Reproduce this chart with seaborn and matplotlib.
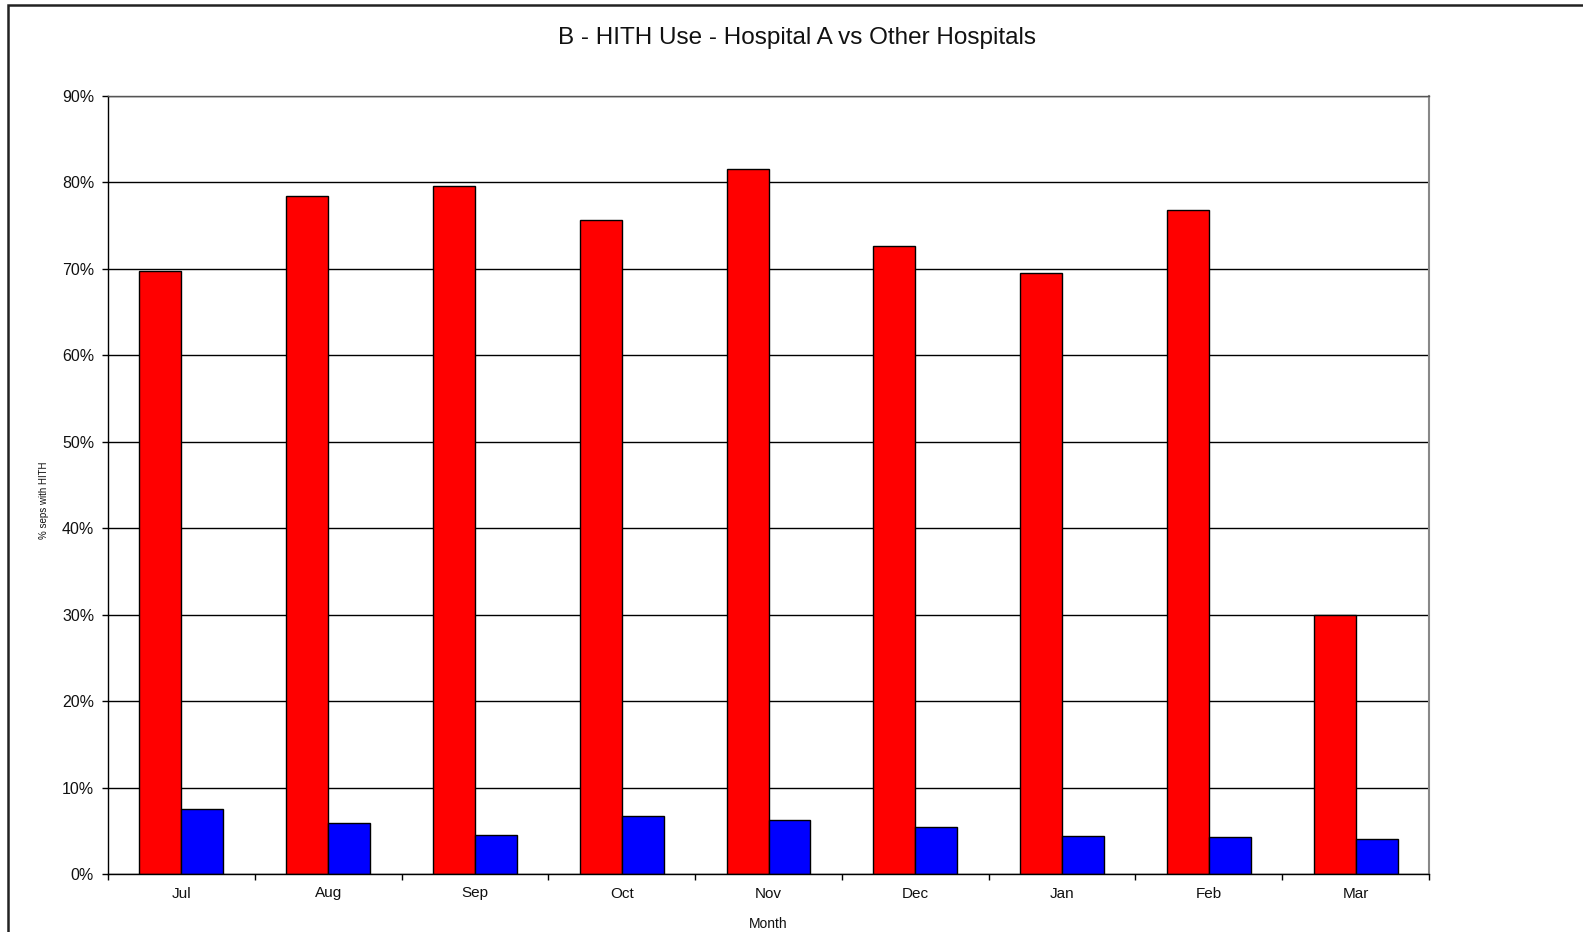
import numpy as np
import pandas as pd
import matplotlib
matplotlib.use("Agg")
import matplotlib.pyplot as plt
from matplotlib.patches import Rectangle
from matplotlib.ticker import PercentFormatter, FixedLocator
import seaborn as sns

# Monthly share of separations with HITH (%)
months = ["Jul", "Aug", "Sep", "Oct", "Nov", "Dec", "Jan", "Feb", "Mar"]
hospital_a = [69.8, 78.4, 79.6, 75.7, 81.6, 72.7, 69.5, 76.8, 30.0]
other_hospitals = [7.5, 5.9, 4.5, 6.75, 6.25, 5.45, 4.35, 4.25, 4.05]
groups = ["Hospital A", "Other Hospitals"]

df = pd.DataFrame({
    "Month": months * 2,
    "Pct": hospital_a + other_hospitals,
    "Group": [groups[0]] * len(months) + [groups[1]] * len(months),
})

sns.set_theme(style="white")
plt.rcParams["font.family"] = ["Liberation Sans", "DejaVu Sans"]

W, H = 1583, 932
fig = plt.figure(figsize=(W / 100, H / 100), dpi=100)
ax = fig.add_axes([108 / W, 1 - 874 / H, (1429 - 108) / W, (874 - 96) / H])

sns.barplot(
    data=df, x="Month", y="Pct", hue="Group",
    order=months, hue_order=groups,
    palette=["#FF0000", "#0000FF"], saturation=1,
    width=0.5714, edgecolor="black", linewidth=1.0,
    legend=False, ax=ax,
)

ax.set_ylim(0, 90)
ax.set_xlim(-0.5, len(months) - 0.5)
ax.yaxis.set_major_locator(FixedLocator(np.arange(0, 91, 10)))
ax.yaxis.set_major_formatter(PercentFormatter(decimals=0))
ax.set_axisbelow(True)
ax.grid(axis="y", color="black", linewidth=1.0)
ax.grid(axis="x", visible=False)

# category boundaries carry the x tick marks
ax.set_xticks(np.arange(-0.5, len(months), 1.0), minor=True)
ax.tick_params(axis="x", which="major", length=0, pad=9, labelsize=11, colors="#111111")
ax.tick_params(axis="x", which="minor", length=4, width=1, color="black", direction="out", bottom=True)
ax.tick_params(axis="y", which="major", length=4, width=1, color="black", direction="out",
               left=True, pad=6, labelsize=11.5, labelcolor="#111111")

for side in ["left", "bottom"]:
    ax.spines[side].set_color("black")
    ax.spines[side].set_linewidth(1.0)
ax.spines["right"].set_color("#888888")
ax.spines["right"].set_linewidth(1.5)
ax.spines["top"].set_color("#555555")
ax.spines["top"].set_linewidth(1.0)

ax.set_xlabel("")
ax.set_ylabel("")
fig.text(44 / W, 1 - 500 / H, "% seps with HITH", rotation=90, ha="center", va="center",
         fontsize=7, color="#111111")
fig.text(768 / W, 1 - 924 / H, "Month", ha="center", va="center", fontsize=10, color="#111111")
fig.text(797 / W, 1 - 38 / H, "B - HITH Use - Hospital A vs Other Hospitals",
         ha="center", va="center", fontsize=17.5, color="#111111")

# chart frame
fig.patches.append(Rectangle((7.5 / W, -0.1), 1.2, 1.1 - 4.5 / H, transform=fig.transFigure,
                             fill=False, edgecolor="#222222", linewidth=1.8))

fig.savefig("out.png", dpi=100)
